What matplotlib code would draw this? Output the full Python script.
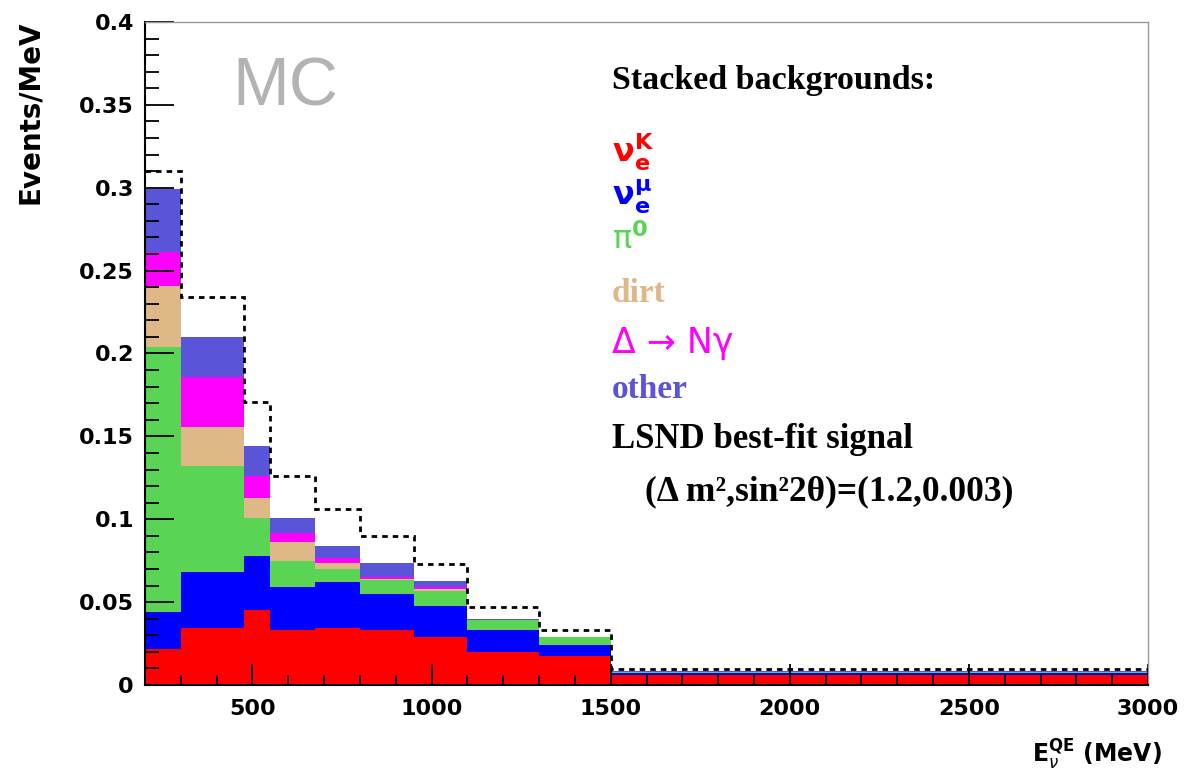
import numpy as np
import matplotlib
matplotlib.use('Agg')
import matplotlib.pyplot as plt
from matplotlib.ticker import MultipleLocator, FormatStrFormatter

plt.rcParams['mathtext.fontset'] = 'dejavusans'

# reconstructed energy bins (MeV)
edges = [200, 300, 475, 550, 675, 800, 950, 1100, 1300, 1500, 3000]

# background components, events/MeV per bin (stacked bottom to top)
nue_kaon = [0.022, 0.0345, 0.0455, 0.033, 0.0345, 0.033, 0.029, 0.020, 0.0175, 0.006]
nue_muon = [0.022, 0.0335, 0.0321, 0.026, 0.0279, 0.022, 0.0184, 0.013, 0.0065, 0.0014]
pi0 = [0.160, 0.064, 0.0229, 0.016, 0.0076, 0.0085, 0.0096, 0.006, 0.0048, 0.0004]
dirt = [0.037, 0.0235, 0.0125, 0.011, 0.0034, 0.0005, 0.001, 0.0002, 0.0002, 0.0001]
delta_ngamma = [0.020, 0.0305, 0.013, 0.006, 0.0032, 0.001, 0.001, 0.0002, 0.0001, 0.0001]
other = [0.038, 0.024, 0.018, 0.009, 0.0074, 0.0084, 0.004, 0.0006, 0.0001, 0.0002]

# backgrounds + LSND best-fit oscillation signal
with_signal = [0.310, 0.234, 0.171, 0.126, 0.106, 0.090, 0.0727, 0.047, 0.033, 0.0095]

components = [nue_kaon, nue_muon, pi0, dirt, delta_ngamma, other]
colors = ['#ff0000', '#0000ff', '#59d454', '#deb887', '#ff00ff', '#5954d8']

W, H = 1184, 779
fig = plt.figure(figsize=(W / 100, H / 100), dpi=100)
ax = fig.add_axes([145 / W, 1 - 685 / H, 1003 / W, 663 / H])


def px(x, y):
    return x / W, 1 - y / H


bottom = np.zeros(len(edges) - 1)
for vals, c in zip(components, colors):
    top = bottom + np.array(vals)
    ax.stairs(top, edges, baseline=bottom, fill=True, color=c, lw=0)
    bottom = top

ax.stairs(with_signal, edges, baseline=None, color='black', lw=2.0,
          ls=(0, (2, 1.8)), zorder=3)

ax.set_xlim(200, 3000)
ax.set_ylim(0, 0.4)
ax.xaxis.set_major_locator(MultipleLocator(500))
ax.xaxis.set_minor_locator(MultipleLocator(100))
ax.yaxis.set_major_locator(MultipleLocator(0.05))
ax.yaxis.set_minor_locator(MultipleLocator(0.01))
ax.yaxis.set_major_formatter(FormatStrFormatter('%g'))
ax.tick_params(which='both', direction='in', top=False, right=False, width=1.3, color='black')
ax.tick_params(axis='y', which='major', length=21, pad=8)
ax.tick_params(axis='y', which='minor', length=10)
ax.tick_params(axis='x', which='major', length=15, pad=10)
ax.tick_params(axis='x', which='minor', length=7)
for lab in ax.get_xticklabels() + ax.get_yticklabels():
    lab.set_fontsize(16)
    lab.set_fontweight('bold')
for s in ['top', 'right']:
    ax.spines[s].set_color('#999999')
    ax.spines[s].set_linewidth(1)
for s in ['left', 'bottom']:
    ax.spines[s].set_linewidth(1.5)

fig.text(*px(30, 20), 'Events/MeV', rotation=90, ha='center', va='top',
         fontsize=20, fontweight='bold')
fig.text(*px(1162, 755), r'$\mathbf{E}_{\nu}^{\mathbf{QE}}$ (MeV)', ha='right', va='center',
         fontsize=17, fontweight='bold')

fig.text(*px(232, 88), 'MC', ha='left', va='center', fontsize=49, color='#b3b3b3',
         family='Liberation Sans')

serif = 'Liberation Serif'
lx = 612
fig.text(*px(lx, 80), 'Stacked backgrounds:', ha='left', va='center', fontsize=24.5,
         fontweight='bold', family=serif)
fig.text(*px(lx, 152), r'$\mathbf{\nu}_{\mathbf{e}}^{\mathbf{K}}$', ha='left', va='center',
         fontsize=23, color=colors[0])
fig.text(*px(lx, 197), r'$\mathbf{\nu}_{\mathbf{e}}^{\mathbf{\mu}}$', ha='left', va='center',
         fontsize=23, color=colors[1])
fig.text(*px(lx, 240), r'$\mathrm{\pi}^{\mathbf{0}}$', ha='left', va='center',
         fontsize=23, color=colors[2])
fig.text(*px(lx, 293), 'dirt', ha='left', va='center', fontsize=24,
         fontweight='bold', family=serif, color=colors[3])
fig.text(*px(lx, 343), 'Δ → Nγ', ha='left', va='center', fontsize=25,
         family='DejaVu Sans', color=colors[4])
fig.text(*px(lx, 390), 'other', ha='left', va='center', fontsize=24,
         fontweight='bold', family=serif, color=colors[5])
fig.text(*px(lx, 440), 'LSND best-fit signal', ha='left', va='center', fontsize=25,
         fontweight='bold', family=serif)
fig.text(*px(645, 492), '(Δ m²,sin²2θ)=(1.2,0.003)', ha='left', va='center', fontsize=25.5,
         fontweight='bold', family=serif)

fig.savefig('out.png', dpi=100)
